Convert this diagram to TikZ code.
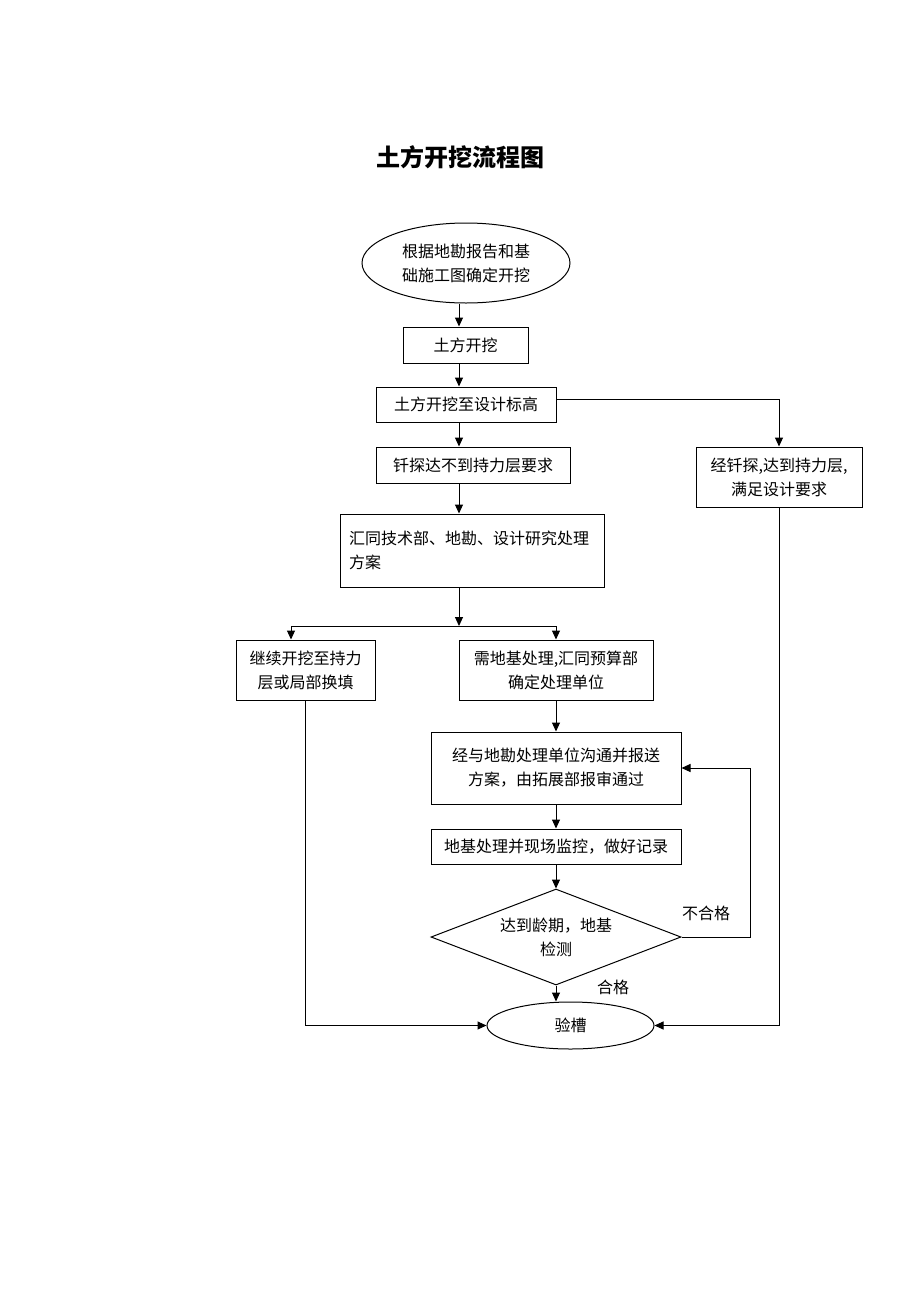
\documentclass[tikz,border=0pt]{standalone}
\usepackage{fontspec}
\setmainfont{Noto Sans CJK SC}
\usepackage{tikz}
\usetikzlibrary{shapes.geometric}
\usetikzlibrary{arrows.meta}
\tikzset{
  stepbox/.style={draw, line width=1pt, inner sep=0pt, align=center, font=\fontsize{16}{24}\selectfont},
  ovalbox/.style={stepbox, ellipse},
  testbox/.style={stepbox, diamond, aspect=2.6},
  link/.style={line width=1pt},
  arr/.style={link, -{Triangle[length=9pt,width=8pt]}},
  labl/.style={inner sep=0pt, font=\fontsize{16}{20}\selectfont}
}

\begin{document}
\begin{tikzpicture}[x=1pt,y=-1pt]
        \useasboundingbox (0,0) rectangle (920,1302);

        % title
        \node[labl, font=\fontsize{24}{28}\selectfont\bfseries] (title) at (460,157) {土方开挖流程图};

        % main column
        \node[ovalbox, minimum width=208pt, minimum height=80pt] (start) at (466,263) {根据地勘报告和基\\础施工图确定开挖};
        \node[stepbox, minimum width=125pt, minimum height=36pt] (dig) at (465.5,345) {土方开挖};
        \node[stepbox, minimum width=180pt, minimum height=35pt] (design) at (466,404.5) {土方开挖至设计标高};
        \node[stepbox, minimum width=194pt, minimum height=36pt] (probe) at (473,465) {钎探达不到持力层要求};
        \node[stepbox, minimum width=264pt, minimum height=73pt, text width=246pt, align=left] (plan) at (472,550.5) {汇同技术部、地勘、设计研究处理\\方案\\[-10pt]};

        % right column
        \node[stepbox, minimum width=166pt, minimum height=60pt] (ok) at (779,477) {经钎探,达到持力层,\\满足设计要求};

        % split
        \node[stepbox, minimum width=139pt, minimum height=60pt] (refill) at (305.5,670) {继续开挖至持力\\层或局部换填};
        \node[stepbox, minimum width=194pt, minimum height=60pt] (treat) at (556,670) {需地基处理,汇同预算部\\确定处理单位};
        \node[stepbox, minimum width=250pt, minimum height=72pt] (survey) at (556,768) {经与地勘处理单位沟通并报送\\方案，由拓展部报审通过};
        \node[stepbox, minimum width=250pt, minimum height=35pt] (record) at (556,846.5) {地基处理并现场监控，做好记录};
        \node[testbox, minimum width=250pt, minimum height=96pt] (test) at (556,937) {达到龄期，地基\\检测};
        \node[ovalbox, minimum width=167pt, minimum height=47pt] (check) at (570.5,1025.5) {验槽};

        \node[labl] (fail) at (706,913) {不合格};
        \node[labl] (pass) at (613,987) {合格};

        % arrows down
        \coordinate (spine) at (459,0);
        \draw[arr] (spine |- start.south) -- (spine |- dig.north);
        \draw[arr] (spine |- dig.south) -- (spine |- design.north);
        \draw[arr] (spine |- design.south) -- (spine |- probe.north);
        \draw[arr] (spine |- probe.south) -- (spine |- plan.north);

        % fork
        \coordinate (forkl) at (291,626);
        \coordinate (forkr) at (556,626);
        \draw[arr] (spine |- plan.south) -- (spine |- forkl);
        \draw[link] (forkl) -- (forkr);
        \draw[arr] (forkl) -- (forkl |- refill.north);
        \draw[arr] (forkr) -- (treat.north);

        \draw[arr] (treat) -- (survey);
        \draw[arr] (survey) -- (record);
        \draw[arr] (record) -- (test);
        \draw[arr] (test.south) -- (test.south |- check.north);

        % loop back
        \coordinate (loop) at (750,0);
        \draw[arr] (test.east) -| (loop |- survey.east) -- (survey.east);

        % right branch
        \draw[arr] ([yshift=5pt]design.east) -| (ok.north);
        \draw[arr] (ok.south) |- (check.east);

        % left branch
        \draw[arr] (refill.south) |- (check.west);

    \end{tikzpicture}
\end{document}
